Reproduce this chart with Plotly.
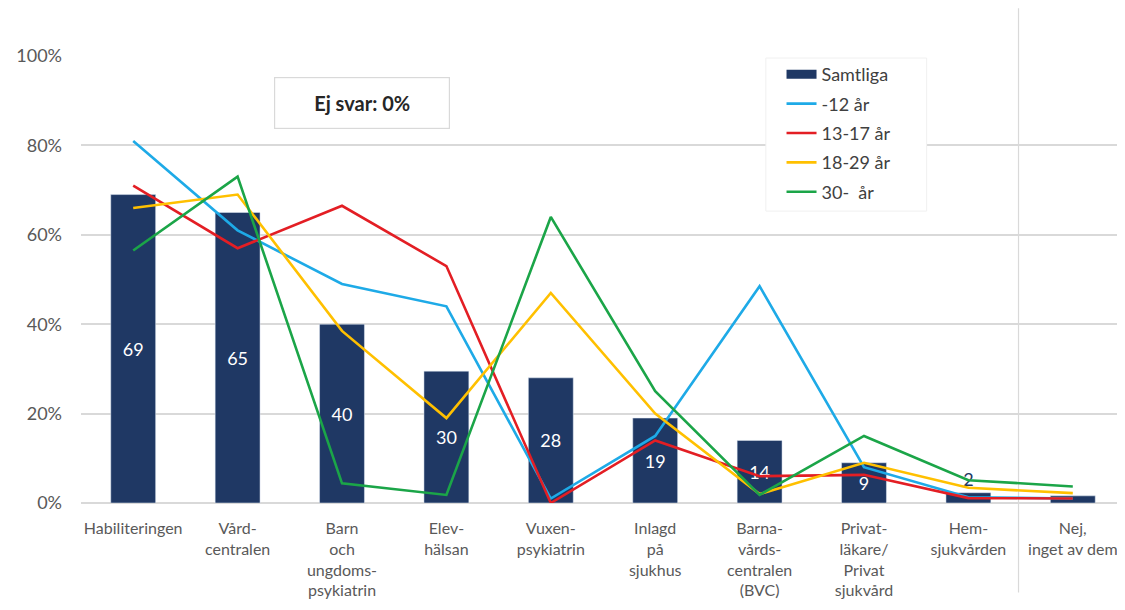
import plotly.graph_objects as go

categories = [
    "Habiliteringen",
    "Vård-<br>centralen",
    "Barn<br>och<br>ungdoms-<br>psykiatrin",
    "Elev-<br>hälsan",
    "Vuxen-<br>psykiatrin",
    "Inlagd<br>på<br>sjukhus",
    "Barna-<br>vårds-<br>centralen<br>(BVC)",
    "Privat-<br>läkare/<br>Privat<br>sjukvård",
    "Hem-<br>sjukvården",
    "Nej,<br>inget av dem",
]

samtliga = [69, 65, 40, 29.5, 28, 19, 14, 9, 2.3, 1.6]
samtliga_labels = ["69", "65", "40", "30", "28", "19", "14", "9", "2", ""]
age_12 = [81, 61, 49, 44, 1, 15, 48.5, 8, 1.3, 1]
age_13_17 = [71, 57, 66.5, 53, 0, 14, 6, 6.3, 1.1, 1]
age_18_29 = [66, 69, 38.5, 19, 47, 20, 2, 9, 3.4, 2.2]
age_30 = [56.5, 73, 4.4, 1.8, 64, 25, 1.8, 15, 5.1, 3.7]

ytick_vals = [0, 20, 40, 60, 80, 100]
ytick_text = ["0%", "20%", "40%", "60%", "80%", "100%"]

FONT = "Lato"
GRAY = "#595959"
NAVY = "#1F3864"

x = list(range(len(categories)))

fig = go.Figure()
fig.add_trace(go.Bar(
    x=x, y=samtliga, name="Samtliga", marker_color=NAVY, width=0.43,
    text=samtliga_labels, textposition="auto", insidetextanchor="middle",
    textangle=0, insidetextfont=dict(color="white", size=18, family=FONT),
    outsidetextfont=dict(color=NAVY, size=18, family=FONT),
    cliponaxis=False, showlegend=False,
))
# legend swatch for the bar series (wide rectangle as in the original)
fig.add_trace(go.Scatter(
    x=[None], y=[None], mode="lines", name="Samtliga",
    line=dict(color=NAVY, width=9), legendgroup="a",
))
line_specs = [
    ("-12 år", age_12, "#1EAAE7"),
    ("13-17 år", age_13_17, "#E31E24"),
    ("18-29 år", age_18_29, "#FFC000"),
    ("30-  år", age_30, "#1BA548"),
]
for i, (nm, vals, col) in enumerate(line_specs):
    fig.add_trace(go.Scatter(
        x=x, y=vals, name=nm, mode="lines",
        line=dict(color=col, width=2.6), legendgroup="g%d" % i,
    ))

# separator line between answer groups
fig.add_shape(type="line", xref="x", yref="paper", x0=8.48, x1=8.48,
              y0=-0.2, y1=1.107, line=dict(color="#D9D9D9", width=1.2),
              layer="below")
# legend panel background
fig.add_shape(type="rect", xref="paper", yref="paper",
              x0=0.656, x1=0.810, y0=0.653, y1=0.9955,
              fillcolor="white", line=dict(color="#F0F0F0", width=1),
              layer="above")

fig.add_annotation(
    xref="paper", yref="paper", x=0.269, y=0.895,
    text="<b>Ej svar: 0%</b>", showarrow=False,
    font=dict(family=FONT, size=20, color="#262626"),
    bordercolor="#D9D9D9", borderwidth=1.2, bgcolor="white",
    width=172, height=48, xanchor="center", yanchor="middle",
)

fig.update_layout(
    width=1125, height=610,
    margin=dict(l=68, r=8, t=48, b=115),
    paper_bgcolor="white", plot_bgcolor="white",
    font=dict(family=FONT, color=GRAY, size=16),
    legend=dict(
        x=0.671, y=1.0, xanchor="left", yanchor="top",
        bgcolor="rgba(0,0,0,0)", borderwidth=0,
        font=dict(family=FONT, size=18, color="#404040"),
        tracegroupgap=3, itemwidth=30,
    ),
    showlegend=True,
)
fig.update_xaxes(
    range=[-0.5, 9.5], tickmode="array", tickvals=x, ticktext=categories,
    showgrid=False, zeroline=False, showline=False, ticks="",
    tickfont=dict(family=FONT, size=16, color=GRAY), tickangle=0,
    ticklabelstandoff=14,
)
fig.update_yaxes(
    range=[0, 100], tickmode="array", tickvals=ytick_vals, ticktext=ytick_text,
    showgrid=True, gridcolor="#D9D9D9", gridwidth=1.5, zeroline=True,
    zerolinecolor="#D9D9D9", zerolinewidth=1.5, showline=False, ticks="",
    tickfont=dict(family=FONT, size=18, color=GRAY), ticklabelstandoff=18,
)

fig.write_html("out.html")
